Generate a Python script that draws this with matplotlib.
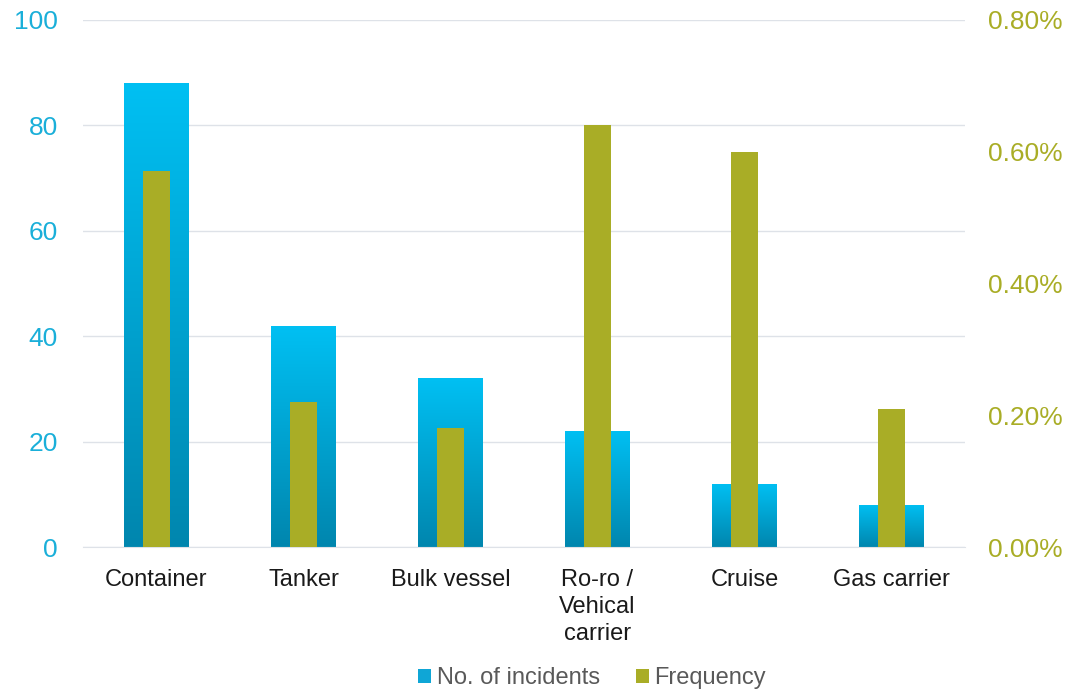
import numpy as np
import matplotlib.pyplot as plt
from matplotlib.ticker import FuncFormatter
from matplotlib.colors import LinearSegmentedColormap
from matplotlib.patches import Patch

# datos
categorias = ['Container', 'Tanker', 'Bulk vessel', 'Ro-ro /\nVehical\ncarrier',
              'Cruise', 'Gas carrier']
incidentes = [88, 42, 32, 22, 12, 8]
frecuencia = [0.57, 0.22, 0.18, 0.64, 0.60, 0.21]  # en %

plt.rcParams['font.family'] = ['Liberation Sans', 'DejaVu Sans']

azul_top = '#00C0F3'
azul_bot = '#0086AE'
oliva = '#A9AD26'
gris = '#DEE2E8'

fig = plt.figure(figsize=(10.71, 6.92), dpi=100)
ax = fig.add_axes([0.0775, 0.2095, 0.8235, 0.762])
ax2 = ax.twinx()

x = np.arange(len(categorias))

# barras azules con degradado
barras = ax.bar(x, incidentes, width=0.44, color='none', zorder=2)
cmap = LinearSegmentedColormap.from_list('azul', [azul_bot, azul_top])
grad = np.linspace(0, 1, 256).reshape(-1, 1)
for b in barras:
    x0, y0 = b.get_x(), b.get_y()
    w, h = b.get_width(), b.get_height()
    im = ax.imshow(grad, extent=[x0, x0 + w, y0, y0 + h], origin='lower',
                   cmap=cmap, aspect='auto', zorder=2)
    im.set_clip_path(b)

ax.set_xlim(-0.5, len(categorias) - 0.5)
ax.set_ylim(0, 100)
ax.set_yticks([0, 20, 40, 60, 80, 100])
ax.grid(axis='y', color=gris, linewidth=1)
ax.set_axisbelow(True)

ax2.bar(x, frecuencia, width=0.18, color=oliva, zorder=3)
ax2.set_ylim(0, 0.8)
ax2.set_yticks([0, 0.2, 0.4, 0.6, 0.8])
ax2.yaxis.set_major_formatter(FuncFormatter(lambda v, p: f'{v:.2f}%'))

for a in (ax, ax2):
    for s in a.spines.values():
        s.set_visible(False)
    a.tick_params(length=0)
ax.spines['bottom'].set_visible(True)
ax.spines['bottom'].set_color(gris)

ax.set_xticks(x)
ax.set_xticklabels(categorias, fontsize=17, color='#1a1a1a', va='top',
                   linespacing=1.3)
ax.tick_params(axis='x', pad=16)
ax.tick_params(axis='y', labelsize=19, labelcolor='#1AAFD9', pad=18)
ax2.tick_params(axis='y', labelsize=19, labelcolor=oliva, pad=16.5)

# leyenda
handles = [Patch(facecolor='#0FA6D6', label='No. of incidents'),
           Patch(facecolor=oliva, label='Frequency')]
fig.legend(handles=handles, loc='center', bbox_to_anchor=(0.553, 0.02),
           ncol=2, frameon=False, fontsize=17, handlelength=0.55,
           handleheight=0.55, handletextpad=0.25, columnspacing=1.5,
           labelcolor='#595959')

fig.savefig('out.png', dpi=100)
